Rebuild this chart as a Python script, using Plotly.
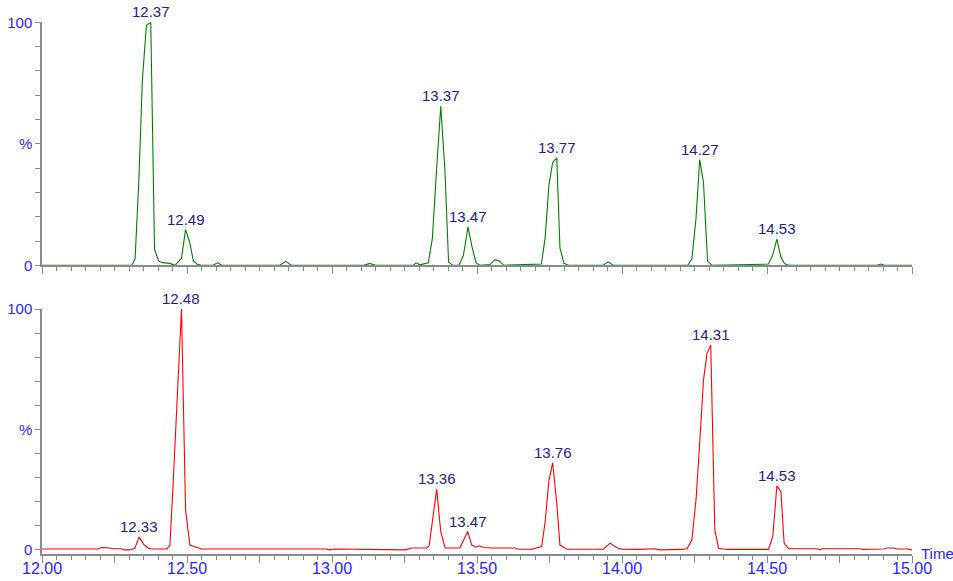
import plotly.graph_objects as go

# ---------------- data ----------------
time_top = [12.00, 12.31, 12.321, 12.334, 12.346, 12.360, 12.375, 12.388, 12.402, 12.415,
            12.44, 12.459, 12.481, 12.495, 12.509, 12.522, 12.536, 12.55, 12.59, 12.605,
            12.62, 12.82, 12.84, 12.86, 13.11, 13.13, 13.15, 13.28, 13.29, 13.303,
            13.332, 13.346, 13.362, 13.375, 13.389, 13.402, 13.416, 13.438, 13.453, 13.469,
            13.483, 13.497, 13.51, 13.545, 13.562, 13.577, 13.593, 13.722, 13.735, 13.748,
            13.761, 13.775, 13.786, 13.80, 13.815, 13.935, 13.952, 13.97, 14.227, 14.241,
            14.255, 14.268, 14.281, 14.295, 14.31, 14.505, 14.519, 14.534, 14.548, 14.56,
            14.575, 14.88, 14.893, 14.905, 15.00]
inten_top = [0, 0, 2.7, 35, 76, 98.8, 100, 6.6, 1.8, 1.1,
             0.8, 0, 2.9, 14.7, 9.6, 1.8, 0.4, 0, 0, 1.0,
             0, 0, 1.6, 0, 0, 0.8, 0, 0, 1.0, 0.2,
             1.0, 11, 42, 65.4, 40, 1.4, 0, 0, 4, 15.8,
             7.5, 1.0, 0, 0.3, 2.3, 1.7, 0, 0.5, 11.3, 33,
             42.3, 44.2, 7.2, 0.8, 0, 0, 1.4, 0, 0, 2.7,
             19, 43.5, 34, 1.8, 0, 0.5, 4, 10.8, 3.4, 0.7,
             0, 0, 0.5, 0, 0]

time_bot = [12.00, 12.193, 12.205, 12.228, 12.245, 12.274, 12.282, 12.303, 12.32, 12.335,
            12.351, 12.366, 12.383, 12.429, 12.441, 12.452, 12.481, 12.495, 12.51, 12.533,
            12.55, 12.98, 12.993, 13.006, 13.165, 13.252, 13.275, 13.326, 13.335, 13.349,
            13.361, 13.375, 13.39, 13.441, 13.453, 13.468, 13.482, 13.497, 13.508, 13.522,
            13.55, 13.63, 13.643, 13.689, 13.723, 13.735, 13.748, 13.761, 13.775, 13.786,
            13.81, 13.936, 13.959, 13.984, 14.0, 14.062, 14.114, 14.13, 14.206, 14.224,
            14.241, 14.256, 14.27, 14.281, 14.293, 14.306, 14.32, 14.333, 14.362, 14.505,
            14.52, 14.534, 14.548, 14.559, 14.574, 14.672, 14.683, 14.69, 14.822, 14.83,
            14.902, 14.913, 14.936, 14.95, 14.983, 15.0]
inten_bot = [0.4, 0.4, 1.0, 0.9, 0.5, 0.5, 0, 0, 0.7, 5.3,
             2.3, 0.7, 0.4, 0.4, 1.7, 27, 100, 16.6, 2.0, 1.0,
             0.4, 0.4, 0, 0.4, 0.3, 0, 0.8, 0.8, 1.7, 13.8,
             25.2, 7.6, 0.8, 0.8, 3.7, 7.6, 2.0, 1.1, 1.7, 1.0,
             0.8, 0.8, 0.3, 0.3, 1.4, 11.7, 28.8, 36.2, 19.5, 2.0,
             0.3, 0.3, 2.8, 0.8, 0.3, 0.2, 0.5, 0, 0.2, 0.5,
             4.1, 22, 48.4, 70.5, 81.6, 85, 8.3, 0.7, 0.2, 0.2,
             5.5, 26.6, 24.2, 2.8, 0.5, 0.5, 0, 0.5, 0.5, 0.2,
             0.4, 0.8, 0.8, 0.4, 0.4, 0]

peak_labels_top = ["12.37", "12.49", "13.37", "13.47", "13.77", "14.27", "14.53"]
peak_labels_bot = ["12.33", "12.48", "13.36", "13.47", "13.76", "14.31", "14.53"]

x_tick_vals = [12.00, 12.25, 12.50, 12.75, 13.00, 13.25, 13.50, 13.75, 14.00, 14.25, 14.50, 14.75, 15.00]
x_tick_text = ["12.00", "", "12.50", "", "13.00", "", "13.50", "", "14.00", "", "14.50", "", "15.00"]
y_tick_vals = [0, 10, 20, 30, 40, 50, 60, 70, 80, 90, 100]
y_tick_text = ["0", "", "", "", "", "%", "", "", "", "", "100"]

assert len(time_top) == len(inten_top)
assert len(time_bot) == len(inten_bot)

# ---------------- styling ----------------
FONT = "Liberation Sans, Arial, sans-serif"
AXIS_GREY = "#8a8a8a"
TICK_BLUE = "#2626ff"
LABEL_NAVY = "#22228a"

fig = go.Figure()
fig.add_trace(go.Scatter(x=time_top, y=inten_top, mode="lines",
                         line=dict(color="#008000", width=1.1), xaxis="x", yaxis="y",
                         showlegend=False, hoverinfo="skip"))
fig.add_trace(go.Scatter(x=time_bot, y=inten_bot, mode="lines",
                         line=dict(color="#ff0000", width=1.1), xaxis="x2", yaxis="y2",
                         showlegend=False, hoverinfo="skip"))


def apex(times, vals, label):
    c = float(label)
    best = None
    for t, v in zip(times, vals):
        if abs(t - c) <= 0.02 and (best is None or v > best[1]):
            best = (t, v)
    return best


annotations = []
for lab in peak_labels_top:
    t, v = apex(time_top, inten_top, lab)
    annotations.append(dict(x=t, y=v, xref="x", yref="y", text=lab, showarrow=False,
                            xanchor="center", yanchor="bottom", yshift=0,
                            font=dict(family=FONT, size=15, color=LABEL_NAVY)))
for lab in peak_labels_bot:
    t, v = apex(time_bot, inten_bot, lab)
    annotations.append(dict(x=t, y=v, xref="x2", yref="y2", text=lab, showarrow=False,
                            xanchor="center", yanchor="bottom", yshift=0,
                            font=dict(family=FONT, size=15, color=LABEL_NAVY)))

annotations.append(dict(x=1.0075, y=1 - 553 / 581, xref="paper", yref="paper", text="Time",
                        showarrow=False, xanchor="left", yanchor="middle",
                        font=dict(family=FONT, size=15, color=TICK_BLUE)))

xaxis_common = dict(range=[12, 15], tickmode="array", tickvals=x_tick_vals, ticktext=x_tick_text,
                    ticks="outside", ticklen=7, tickwidth=1, tickcolor=AXIS_GREY,
                    showline=True, linecolor=AXIS_GREY, linewidth=1.5,
                    showgrid=False, zeroline=False, automargin=False,
                    ticklabelstandoff=-8,
                    minor=dict(dtick=0.05, tick0=12, ticks="outside", ticklen=4,
                               tickcolor=AXIS_GREY, tickwidth=1, showgrid=False),
                    tickfont=dict(family=FONT, size=16, color=TICK_BLUE))
yaxis_common = dict(tickmode="array", tickvals=y_tick_vals, ticktext=y_tick_text,
                    ticks="outside", ticklen=5, tickwidth=1, tickcolor=AXIS_GREY,
                    showline=True, linecolor=AXIS_GREY, linewidth=1.5,
                    showgrid=False, zeroline=False, automargin=False,
                    tickfont=dict(family=FONT, size=15, color=TICK_BLUE))

fig.update_layout(
    width=953, height=581, autosize=False,
    margin=dict(l=42, r=41, t=0, b=0, autoexpand=False),
    paper_bgcolor="white", plot_bgcolor="white",
    xaxis=dict(domain=[0, 1], anchor="y", showticklabels=False, **xaxis_common),
    xaxis2=dict(domain=[0, 1], anchor="y2", matches="x", showticklabels=True, **xaxis_common),
    yaxis=dict(domain=[1 - 265.3 / 581, 1 - 22.3 / 581], anchor="x", range=[0, 100], **yaxis_common),
    yaxis2=dict(domain=[1 - 554 / 581, 1 - 309 / 581], anchor="x2", range=[-1.7, 100], **yaxis_common),
    annotations=annotations,
)

fig.write_html("out.html", config={"displayModeBar": False},
               post_script="document.body.style.margin='0';document.body.style.overflow='hidden';")
